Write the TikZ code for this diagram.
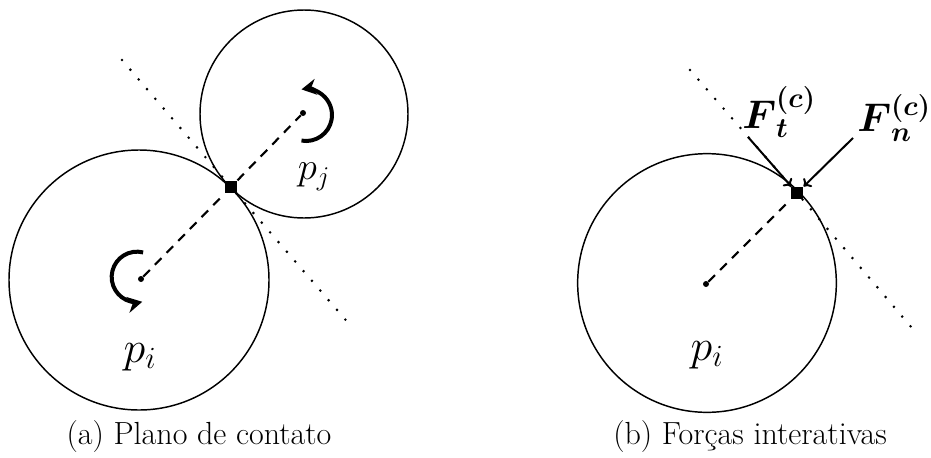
\documentclass[tikz,border=0pt]{standalone}
\usepackage{fix-cm}
\usepackage{amsmath}
\usetikzlibrary{arrows.meta}
\begin{document}
\begin{tikzpicture}[x=0.75pt,y=-0.75pt,
  ball/.style={circle,draw,line width=1.1pt,inner sep=0pt},
  cdot/.style={circle,fill,inner sep=0pt,minimum size=4.5pt},
  contact/.style={rectangle,fill,inner sep=0pt,minimum size=9.5pt},
  dashln/.style={line width=1.6pt,dash pattern=on 7pt off 5.5pt},
  dotln/.style={line width=2.2pt,line cap=round,dash pattern=on 0pt off 9.6pt},
  rot/.style={line width=3pt,-{Stealth[length=11pt,width=12pt]}},
  force/.style={line width=1.5pt,-{To[length=5pt,width=9pt,line width=1.5pt]}},
  lbl/.style={font=\fontsize{33}{37}\selectfont},
  lblsmall/.style={font=\fontsize{29}{33}\selectfont},
  flbl/.style={font=\fontsize{30}{34}\selectfont},
  captxt/.style={font=\fontsize{24}{28}\selectfont}]
\useasboundingbox (0,0) rectangle (931,457);
% ---------- (a) ----------
\node[ball,minimum size=195pt] (Ci) at (139,280) {};
\node[ball,minimum size=156pt] (Cj) at (304,114) {};
\node[cdot] (ci) at (141,279) {};
\node[cdot] (cj) at (303,113) {};
\node[contact] (ka) at (231,187) {};
\coordinate (da1) at (122,60);
\coordinate (da2) at (350,325);
\draw[dotln] (da1) -- (ka) -- (da2);
\draw[dashln] (ci) -- (ka) -- (cj);
\coordinate (ri) at (137,277);
\coordinate (rj) at (306,115);
\draw[rot] ([shift={(76:19pt)}]ri) arc[start angle=76,end angle=282,radius=19pt];
\draw[rot] ([shift={(-100:19.5pt)}]rj) arc[start angle=-100,end angle=100,radius=19.5pt];
\node[lbl] (pi) at (140,357) {$p_i$};
\node[lblsmall] (pj) at (314,177) {$p_j$};
\node[captxt] (capa) at (199,437) {(a) Plano de contato};
% ---------- (b) ----------
\node[ball,minimum size=194pt] (Cb) at (707,283) {};
\node[cdot] (cb) at (706,284) {};
\node[contact] (kb) at (797,193) {};
\coordinate (db1) at (690,70);
\coordinate (db2) at (912,328);
\draw[dotln] (db1) -- (kb) -- (db2);
\draw[dashln] (cb) -- (kb);
\coordinate (ft) at (748,137);
\coordinate (fn) at (853,138);
\draw[force] (ft) -- (kb);
\draw[force] (fn) -- (kb);
\node[flbl] (Ft) at (779,112) {$\boldsymbol{F}_{\boldsymbol{t}}^{\boldsymbol{(c)}}$};
\node[flbl] (Fn) at (894,118) {$\boldsymbol{F}_{\boldsymbol{n}}^{\boldsymbol{(c)}}$};
\node[lbl] (pib) at (707,355) {$p_i$};
\node[captxt] (capb) at (750,437) {(b) Forças interativas};
\end{tikzpicture}
\end{document}
